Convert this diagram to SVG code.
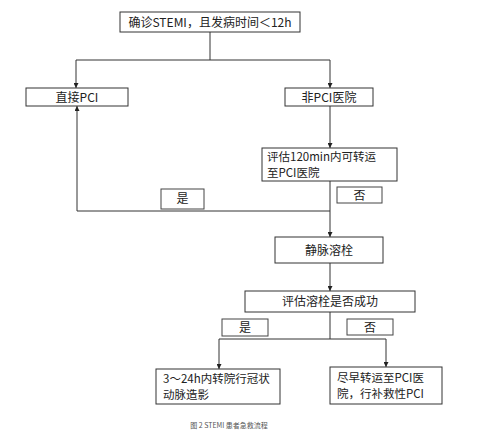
<svg xmlns="http://www.w3.org/2000/svg" width="500" height="440" viewBox="0 0 500 440">
<defs>
<marker id="arr" viewBox="0 0 10 10" refX="10" refY="5" markerWidth="5" markerHeight="5" markerUnits="userSpaceOnUse" orient="auto">
<path d="M0,0 L10,5 L0,10 Z" fill="#222"/>
</marker>
<style>
.box{fill:#fff;stroke:#333;stroke-width:1}
.lbl{fill:#fff;stroke:#444;stroke-width:1}
.t{font-family:"Noto Sans CJK SC","Noto Sans",sans-serif;font-size:12px;fill:#222}
.m{font-size:11.5px}
.c{text-anchor:middle}
.ln{fill:none;stroke:#333;stroke-width:1}
</style>
</defs>
<rect width="500" height="440" fill="#fff"/>
<g id="connectors">
<path class="ln" d="M210,32 V60"/>
<path class="ln" d="M76,60 H330"/>
<path class="ln" d="M76,60 V88" marker-end="url(#arr)"/>
<path class="ln" d="M330,60 V88" marker-end="url(#arr)"/>
<path class="ln" d="M330,106 V148" marker-end="url(#arr)"/>
<path class="ln" d="M330,181 V237" marker-end="url(#arr)"/>
<path class="ln" d="M330,211 H77 V106" marker-end="url(#arr)"/>
<path class="ln" d="M330,263 V291" marker-end="url(#arr)"/>
<path class="ln" d="M330,312 V339"/>
<path class="ln" d="M219,339 H386"/>
<path class="ln" d="M219,339 V369" marker-end="url(#arr)"/>
<path class="ln" d="M386,339 V367" marker-end="url(#arr)"/>
</g>
<g id="n-start">
<rect class="box" x="120" y="12" width="180" height="20"/>
<text class="t c" x="210" y="26.5">确诊STEMI，且发病时间＜12h</text>
</g>
<g id="n-direct">
<rect class="box" x="26" y="88" width="102" height="18"/>
<text class="t c" x="77" y="101.5">直接PCI</text>
</g>
<g id="n-nonpci">
<rect class="box" x="285" y="88" width="88" height="18"/>
<text class="t c" x="329" y="101.5">非PCI医院</text>
</g>
<g id="n-eval120">
<rect class="box" x="262" y="148" width="135" height="33"/>
<text class="t m" x="267" y="161">评估120min内可转运</text>
<text class="t m" x="267" y="177">至PCI医院</text>
</g>
<g id="l-yes1">
<rect class="lbl" x="161" y="189" width="43" height="20"/>
<text class="t c" x="182.5" y="203" font-size="11">是</text>
</g>
<g id="l-no1">
<rect class="lbl" x="337" y="187" width="45" height="16"/>
<text class="t c" x="359.5" y="199.5" font-size="11">否</text>
</g>
<g id="n-lysis">
<rect class="box" x="275" y="237" width="108" height="26"/>
<text class="t c" x="329" y="254.5">静脉溶栓</text>
</g>
<g id="n-evallysis">
<rect class="box" x="245" y="291" width="170" height="21"/>
<text class="t c" x="330" y="306">评估溶栓是否成功</text>
</g>
<g id="l-yes2">
<rect class="lbl" x="222" y="319" width="46" height="17"/>
<text class="t c" x="245" y="332" font-size="11">是</text>
</g>
<g id="l-no2">
<rect class="lbl" x="347" y="319" width="46" height="16"/>
<text class="t c" x="370" y="331.5" font-size="11">否</text>
</g>
<g id="n-angio">
<rect class="box" x="156" y="369" width="124" height="35"/>
<text class="t m" x="163" y="383">3～24h内转院行冠状</text>
<text class="t m" x="163" y="399">动脉造影</text>
</g>
<g id="n-rescue">
<rect class="box" x="330" y="367" width="112" height="37"/>
<text class="t m" x="337" y="382">尽早转运至PCI医</text>
<text class="t m" x="337" y="398">院，行补救性PCI</text>
</g>
<text x="229" y="428" font-family="Noto Sans CJK SC, sans-serif" font-size="7" fill="#555" text-anchor="middle">图 2 STEMI 患者急救流程</text>
</svg>
